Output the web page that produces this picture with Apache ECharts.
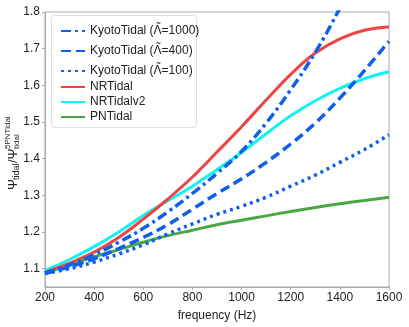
<!DOCTYPE html>
<html>
<head>
<meta charset="utf-8">
<script src="https://cdn.jsdelivr.net/npm/echarts@6/dist/echarts.min.js"></script>
<style>
  html, body { margin: 0; padding: 0; background: #fff; }
  #chart { width: 409px; height: 327px; }
</style>
</head>
<body>
<div id="chart"></div>
<script>
// frequency grid (Hz)
const freqs = [200, 300, 400, 500, 600, 700, 800, 900, 1000, 1100, 1200, 1300, 1400, 1500, 1600];

// phase ratio curves
const kyoto1000 = [1.088, 1.110, 1.138, 1.172, 1.210, 1.255, 1.305, 1.360, 1.420, 1.497, 1.588, 1.690, 1.810, 1.940, 2.080];
const kyoto400  = [1.087, 1.105, 1.127, 1.155, 1.185, 1.220, 1.262, 1.305, 1.345, 1.390, 1.440, 1.497, 1.565, 1.640, 1.720];
const kyoto100  = [1.087, 1.100, 1.118, 1.140, 1.165, 1.195, 1.222, 1.248, 1.270, 1.295, 1.325, 1.355, 1.390, 1.425, 1.465];
const nrTidal   = [1.090, 1.115, 1.145, 1.185, 1.235, 1.290, 1.350, 1.418, 1.487, 1.560, 1.630, 1.688, 1.727, 1.750, 1.759];
const nrTidalV2 = [1.095, 1.125, 1.160, 1.200, 1.245, 1.285, 1.325, 1.370, 1.417, 1.468, 1.517, 1.558, 1.592, 1.618, 1.637];
const pnTidal   = [1.088, 1.110, 1.132, 1.152, 1.172, 1.190, 1.205, 1.220, 1.232, 1.244, 1.256, 1.267, 1.277, 1.286, 1.295];

const xTicks = [200, 400, 600, 800, 1000, 1200, 1400, 1600];
const yTicks = [1.1, 1.2, 1.3, 1.4, 1.5, 1.6, 1.7, 1.8];

const names = ['KyotoTidal (Λ\u0303=1000)', 'KyotoTidal (Λ\u0303=400)', 'KyotoTidal (Λ\u0303=100)', 'NRTidal', 'NRTidalv2', 'PNTidal'];

const blue = '#0d5fec';
const font = 'Liberation Sans, Arial, sans-serif';

function pairs(ys) {
  return freqs.map((f, i) => [f, ys[i]]);
}

function mkLine(name, ys, color, width, type) {
  return {
    name: name,
    type: 'line',
    data: pairs(ys),
    smooth: 0.4,
    symbol: 'none',
    clip: true,
    lineStyle: { color: color, width: width, type: type, cap: 'butt' },
    itemStyle: { color: color }
  };
}

const chart = echarts.init(document.getElementById('chart'));

// the tilde is drawn as a zero-width token sitting on top of the Lambda
const kyotoText = {
  fontFamily: font, fontSize: 12, color: '#222', lineHeight: 20,
  rich: {
    t: { fontFamily: font, fontSize: 11, color: '#222', width: 0, lineHeight: 9, verticalAlign: 'top' }
  }
};
const plainText = { fontFamily: font, fontSize: 12, color: '#222' };

function legendFmt(name) {
  return name.replace('Λ\u0303', '{t| ˜}Λ');
}

const option = {
  animation: false,
  backgroundColor: '#fff',
  grid: {
    left: 45, right: 20, top: 12, bottom: 36,
    show: true, borderColor: '#aaa', borderWidth: 1
  },
  legend: [
    {
      data: names.slice(0, 3),
      left: 55, top: 16,
      orient: 'vertical',
      itemWidth: 24, itemHeight: 10, itemGap: 0,
      itemStyle: { opacity: 0 },
      formatter: legendFmt,
      textStyle: kyotoText
    },
    {
      data: names.slice(3),
      left: 55, top: 76,
      orient: 'vertical',
      itemWidth: 24, itemHeight: 10, itemGap: 3,
      itemStyle: { opacity: 0 },
      textStyle: plainText
    }
  ],
  xAxis: {
    type: 'value',
    min: 200, max: 1600, interval: 200,
    name: 'frequency (Hz)',
    nameLocation: 'middle',
    nameGap: 23,
    nameTextStyle: { fontFamily: font, fontSize: 12, color: '#222' },
    axisLine: { lineStyle: { color: '#aaa' } },
    axisTick: { show: true, length: 3, lineStyle: { color: '#aaa' } },
    axisLabel: { fontFamily: font, fontSize: 12, color: '#222', margin: 5,
      customValues: xTicks, formatter: v => String(v) },
    splitLine: { show: false }
  },
  yAxis: {
    type: 'value',
    min: 1.05, max: 1.8,
    axisLine: { show: true, lineStyle: { color: '#aaa' } },
    axisTick: { show: true, length: 3, lineStyle: { color: '#aaa' }, customValues: yTicks },
    axisLabel: { fontFamily: font, fontSize: 12, color: '#222', margin: 5,
      customValues: yTicks, formatter: v => v.toFixed(1) },
    splitLine: { show: false }
  },
  graphic: [
    {
      type: 'rect',
      shape: { x: 51.5, y: 15.5, width: 145, height: 112, r: 3 },
      style: { fill: '#fff', stroke: '#ddd', lineWidth: 1 },
      z: 1
    },
    {
      type: 'group',
      x: 13, y: 152,
      rotation: Math.PI / 2,
      children: [
        { type: 'text', x: -38, y: 0, style: { text: 'Ψ', fontFamily: font, fontSize: 13, fill: '#222', verticalAlign: 'middle' } },
        { type: 'text', x: -28, y: 4, style: { text: 'tidal', fontFamily: font, fontSize: 9, fill: '#222', verticalAlign: 'middle' } },
        { type: 'text', x: -11, y: 0, style: { text: '/Ψ', fontFamily: font, fontSize: 13, fill: '#222', verticalAlign: 'middle' } },
        { type: 'text', x: 3, y: -5, style: { text: '5PNTidal', fontFamily: font, fontSize: 8, fill: '#222', verticalAlign: 'middle' } },
        { type: 'text', x: 3, y: 4, style: { text: 'tidal', fontFamily: font, fontSize: 8, fill: '#222', verticalAlign: 'middle' } }
      ]
    }
  ],
  series: [
    mkLine(names[5], pnTidal, '#4aa844', 3, 'solid'),
    mkLine(names[4], nrTidalV2, '#12f2f2', 3, 'solid'),
    mkLine(names[3], nrTidal, '#f04444', 3, 'solid'),
    mkLine(names[2], kyoto100, blue, 3.5, [3, 4]),
    mkLine(names[1], kyoto400, blue, 3.5, [10, 5]),
    mkLine(names[0], kyoto1000, blue, 3.5, [10, 4, 3, 4])
  ]
};

chart.setOption(option);
</script>
</body>
</html>
